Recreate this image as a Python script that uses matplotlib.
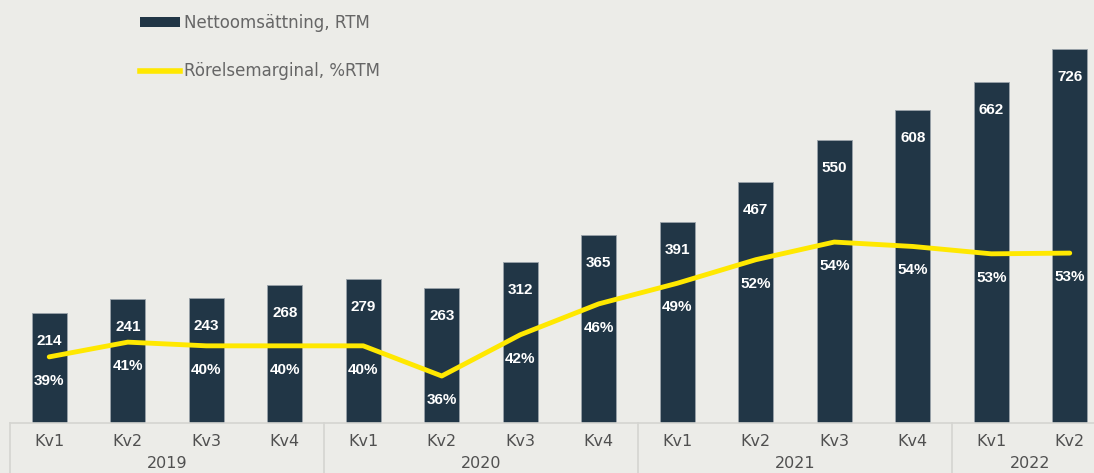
import matplotlib.pyplot as plt
from matplotlib.patches import Patch
from matplotlib.lines import Line2D
from matplotlib.transforms import blended_transform_factory

# Data
years = ['2019', '2020', '2021', '2022']
quarters = ['Kv1', 'Kv2', 'Kv3', 'Kv4', 'Kv1', 'Kv2', 'Kv3', 'Kv4',
            'Kv1', 'Kv2', 'Kv3', 'Kv4', 'Kv1', 'Kv2']
quarters_per_year = [4, 4, 4, 2]
revenue = [214, 241, 243, 268, 279, 263, 312, 365, 391, 467, 550, 608, 662, 726]
margin = [38.6, 40.6, 40.1, 40.1, 40.1, 36.0, 41.6, 45.8, 48.6, 51.8, 54.2, 53.6, 52.6, 52.7]

bg = '#ECECE8'
navy = '#213646'
yellow = '#FFE800'
grey_text = '#505050'
line_grey = '#d5d5d1'

W, H = 1094, 473
fig = plt.figure(figsize=(W / 100, H / 100), dpi=100, facecolor=bg)
# axes: baseline at y=423 px, categories 78.5 px wide starting at x=10 px
ax = fig.add_axes([10 / W, 50 / H, 14 * 78.5 / W, 423 / H])
ax.set_facecolor(bg)

x = list(range(len(revenue)))
ax.bar(x, revenue, width=0.45, color=navy, edgecolor='#9aa3aa', linewidth=0.6, zorder=2)
ax.set_xlim(-0.5, 13.5)
ax.set_ylim(0, 423 / 0.515)
for s in ax.spines.values():
    s.set_visible(False)
ax.set_xticks([])
ax.set_yticks([])

for i, v in enumerate(revenue):
    ax.annotate(str(v), (i, v), xytext=(0, -28), textcoords='offset pixels',
                ha='center', va='center', color='white', fontsize=11,
                fontweight='bold', family='Liberation Sans', zorder=4)

ax2 = ax.twinx()
ax2.set_ylim(36 - 47 / 7.36, 36 + 376 / 7.36)
ax2.set_xlim(-0.5, 13.5)
ax2.axis('off')
ax2.plot(x, margin, color=yellow, lw=3.5, solid_capstyle='round',
         solid_joinstyle='round', zorder=3)
for i, m in enumerate(margin):
    ax2.annotate(f'{round(m)}%', (i, m), xytext=(0, -24), textcoords='offset pixels',
                 ha='center', va='center', color='white', fontsize=11,
                 fontweight='bold', family='Liberation Sans', zorder=4)

# category axis with year groups
trans = blended_transform_factory(ax.transData, ax.transAxes)
ax.plot([-0.5, 13.5], [0, 0], transform=trans, color=line_grey, lw=1.2, clip_on=False)
for i, q in enumerate(quarters):
    ax.text(i, -18 / 423, q, transform=trans, ha='center', va='center',
            color=grey_text, fontsize=11.5, clip_on=False)
start = 0
for yr, n in zip(years, quarters_per_year):
    ax.plot([start - 0.5, start - 0.5], [0, -60 / 423], transform=trans,
            color=line_grey, lw=1.2, clip_on=False)
    ax.text(start + (n - 1) / 2, -40 / 423, yr, transform=trans, ha='center',
            va='center', color=grey_text, fontsize=11.5, clip_on=False)
    start += n

handles = [Patch(facecolor=navy, edgecolor='none'),
           Line2D([0], [0], color=yellow, lw=4)]
leg = fig.legend(handles, ['Nettoomsättning, RTM', 'Rörelsemarginal, %RTM'],
                 loc='upper left', bbox_to_anchor=(140 / W, 1 - 14 / H),
                 frameon=False, fontsize=12, handlelength=2.4, handleheight=0.55,
                 handletextpad=0.25, labelspacing=1.8, borderpad=0, borderaxespad=0)
for t in leg.get_texts():
    t.set_color('#666666')

fig.savefig('out.png', dpi=100, facecolor=bg)
